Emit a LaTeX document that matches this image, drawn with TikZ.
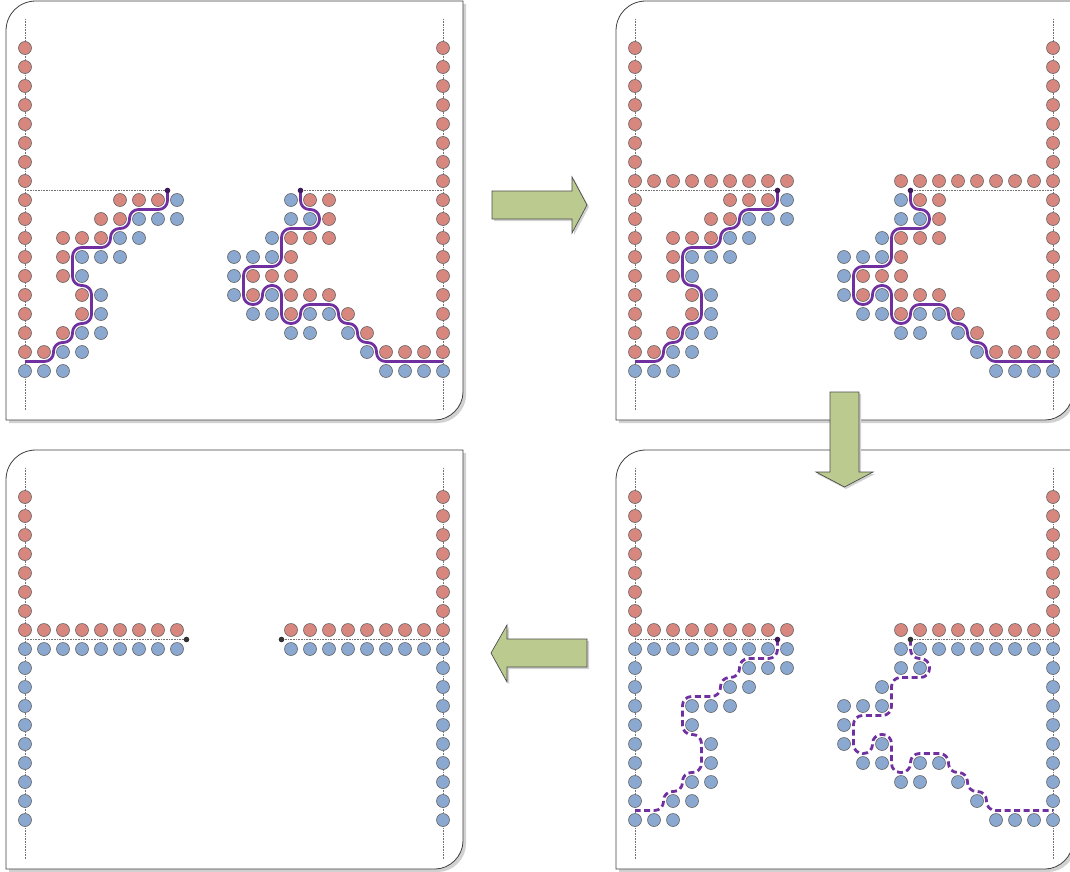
\documentclass[tikz,border=0pt]{standalone}

\definecolor{dotred}{HTML}{D8877F}
\definecolor{dotblue}{HTML}{8AA8D0}
\definecolor{cutpurple}{HTML}{7030A0}
\definecolor{arrowgreen}{HTML}{BBCA8E}

% cells of the two regions next to the cut (column/row on the grid)
\def\redset{5/8,6/8,7/8,4/9,5/9,2/10,3/10,4/10,2/11,2/12,3/13,3/14,2/15,1/16,
  15/8,16/8,16/9,14/10,15/10,16/10,14/11,12/12,13/12,14/12,12/13,14/13,15/13,16/13,
  14/14,17/14,18/15,19/16,20/16,21/16}
\def\blueset{8/8,6/9,7/9,8/9,5/10,6/10,3/11,4/11,5/11,3/12,4/13,4/14,3/15,4/15,2/16,3/16,1/17,2/17,
  14/8,14/9,15/9,13/10,11/11,12/11,13/11,11/12,11/13,13/13,12/14,13/14,15/14,16/14,
  14/15,15/15,17/15,18/16,19/17,20/17,21/17}

\newcommand{\sidecolumns}[2]{%
  \draw[gridline] (0,-1.53) -- (0,19.05) (22,-1.53) -- (22,19.05);
  \foreach \j in {#1} \draw[reddot] (0,\j) circle[radius=6.5pt] (22,\j) circle[radius=6.5pt];
  \foreach \j in {#2} \draw[bluedot] (0,\j) circle[radius=6.5pt] (22,\j) circle[radius=6.5pt];}

\newcommand{\cutpaths}[1]{%
  \draw[#1] (7.5,7.5) -- (7.5,8.5) -- (5.5,8.5) -- (5.5,9.5) -- (4.5,9.5) -- (4.5,10.5) -- (2.5,10.5)
    -- (2.5,12.5) -- (3.5,12.5) -- (3.5,14.5) -- (2.5,14.5) -- (2.5,15.5) -- (1.5,15.5) -- (1.5,16.5) -- (0,16.5);
  \draw[#1] (14.5,7.5) -- (14.5,8.5) -- (15.5,8.5) -- (15.5,9.5) -- (13.5,9.5) -- (13.5,11.5) -- (11.5,11.5)
    -- (11.5,13.5) -- (12.5,13.5) -- (12.5,12.5) -- (13.5,12.5) -- (13.5,14.5) -- (14.5,14.5) -- (14.5,13.5)
    -- (16.5,13.5) -- (16.5,14.5) -- (17.5,14.5) -- (17.5,15.5) -- (18.5,15.5) -- (18.5,16.5) -- (22,16.5);}

\begin{document}
\begin{tikzpicture}[x=1pt, y=-1pt,
  reddot/.style={draw=black!60, fill=dotred, line width=0.6pt},
  bluedot/.style={draw=black!60, fill=dotblue, line width=0.6pt},
  gridline/.style={draw=black!55, densely dotted, line width=0.6pt},
  cutline/.style={draw=cutpurple, line width=2.8pt, rounded corners=9pt},
  trialcut/.style={cutline, dash pattern=on 6pt off 3.5pt},
  blockarrow/.style={draw=black!70, fill=arrowgreen, line width=0.7pt},
  panel/.pic={
    \fill[black!18] (9,423) -- (9,34) .. controls (9,17) and (22,4) .. (39,4) -- (466,4) -- (466,395)
      .. controls (466,410) and (453,423) .. (438,423) -- cycle;
    \draw[black!75, line width=0.8pt, fill=white] (6,420) -- (6,31) .. controls (6,14) and (19,1) .. (36,1)
      -- (463,1) -- (463,392) .. controls (463,407) and (450,420) .. (435,420) -- cycle;}]
  \useasboundingbox (0,0) rectangle (1070,872);
  \foreach \dx/\dy in {0/0, 610/0, 0/449, 610/449} \pic at (\dx,\dy) {panel};

  % top left: the cut between the two regions
  \begin{scope}[shift={(25,48)}, x=19pt, y=-19pt]
    \sidecolumns{0,...,16}{17}
    \draw[gridline] (0,7.5) -- (7.5,7.5) (14.5,7.5) -- (22,7.5);
    \foreach \i/\j in \redset \draw[reddot] (\i,\j) circle[radius=6.5pt];
    \foreach \i/\j in \blueset \draw[bluedot] (\i,\j) circle[radius=6.5pt];
    \cutpaths{cutline}
    \fill[cutpurple!55!black] (7.5,7.5) circle[radius=2.8pt] (14.5,7.5) circle[radius=2.8pt];
  \end{scope}

  % top right: row above the cut filled
  \begin{scope}[shift={(635,48)}, x=19pt, y=-19pt]
    \sidecolumns{0,...,16}{17}
    \draw[gridline] (0,7.5) -- (7.5,7.5) (14.5,7.5) -- (22,7.5);
    \foreach \i in {1,...,8} \draw[reddot] (\i,7) circle[radius=6.5pt];
    \foreach \i in {14,...,21} \draw[reddot] (\i,7) circle[radius=6.5pt];
    \foreach \i/\j in \redset \draw[reddot] (\i,\j) circle[radius=6.5pt];
    \foreach \i/\j in \blueset \draw[bluedot] (\i,\j) circle[radius=6.5pt];
    \cutpaths{cutline}
    \fill[cutpurple!55!black] (7.5,7.5) circle[radius=2.8pt] (14.5,7.5) circle[radius=2.8pt];
  \end{scope}

  % bottom right: red side removed
  \begin{scope}[shift={(635,497)}, x=19pt, y=-19pt]
    \sidecolumns{0,...,7}{8,...,17}
    \draw[gridline] (0,7.5) -- (7.5,7.5) (14.5,7.5) -- (22,7.5);
    \foreach \i in {1,...,8} \draw[reddot] (\i,7) circle[radius=6.5pt];
    \foreach \i in {14,...,21} \draw[reddot] (\i,7) circle[radius=6.5pt];
    \foreach \i in {1,...,7} \draw[bluedot] (\i,8) circle[radius=6.5pt];
    \foreach \i in {15,...,21} \draw[bluedot] (\i,8) circle[radius=6.5pt];
    \foreach \i/\j in \blueset \draw[bluedot] (\i,\j) circle[radius=6.5pt];
    \cutpaths{trialcut}
    \fill[cutpurple!55!black] (7.5,7.5) circle[radius=2.8pt];
    \fill[black!80] (14.5,7.5) circle[radius=2.8pt];
  \end{scope}

  % bottom left: straight boundary
  \begin{scope}[shift={(25,497)}, x=19pt, y=-19pt]
    \sidecolumns{0,...,7}{8,...,17}
    \draw[gridline] (0,7.5) -- (8.5,7.5) (13.5,7.5) -- (22,7.5);
    \foreach \i in {1,...,8} \draw[reddot] (\i,7) circle[radius=6.5pt];
    \foreach \i in {14,...,21} \draw[reddot] (\i,7) circle[radius=6.5pt];
    \foreach \i in {1,...,8} \draw[bluedot] (\i,8) circle[radius=6.5pt];
    \foreach \i in {14,...,21} \draw[bluedot] (\i,8) circle[radius=6.5pt];
    \fill[black!80] (8.5,7.5) circle[radius=2.8pt] (13.5,7.5) circle[radius=2.8pt];
  \end{scope}

  % arrows between the steps
  \fill[black!18] (494,193) -- (574,193) -- (574,179) -- (589,207) -- (574,235) -- (574,221) -- (494,221) -- cycle;
  \draw[blockarrow] (492,191) -- (572,191) -- (572,177) -- (587,205) -- (572,233) -- (572,219) -- (492,219) -- cycle;
  \fill[black!18] (832,394) -- (861,394) -- (861,474) -- (875,474) -- (846,489) -- (817,474) -- (832,474) -- cycle;
  \draw[blockarrow] (830,392) -- (859,392) -- (859,472) -- (873,472) -- (844.5,487) -- (816,472) -- (830,472) -- cycle;
  \fill[black!18] (589,641) -- (509,641) -- (509,627) -- (493,655) -- (509,684) -- (509,669) -- (589,669) -- cycle;
  \draw[blockarrow] (587,639) -- (507,639) -- (507,625) -- (491,653) -- (507,682) -- (507,667) -- (587,667) -- cycle;
\end{tikzpicture}
\end{document}
